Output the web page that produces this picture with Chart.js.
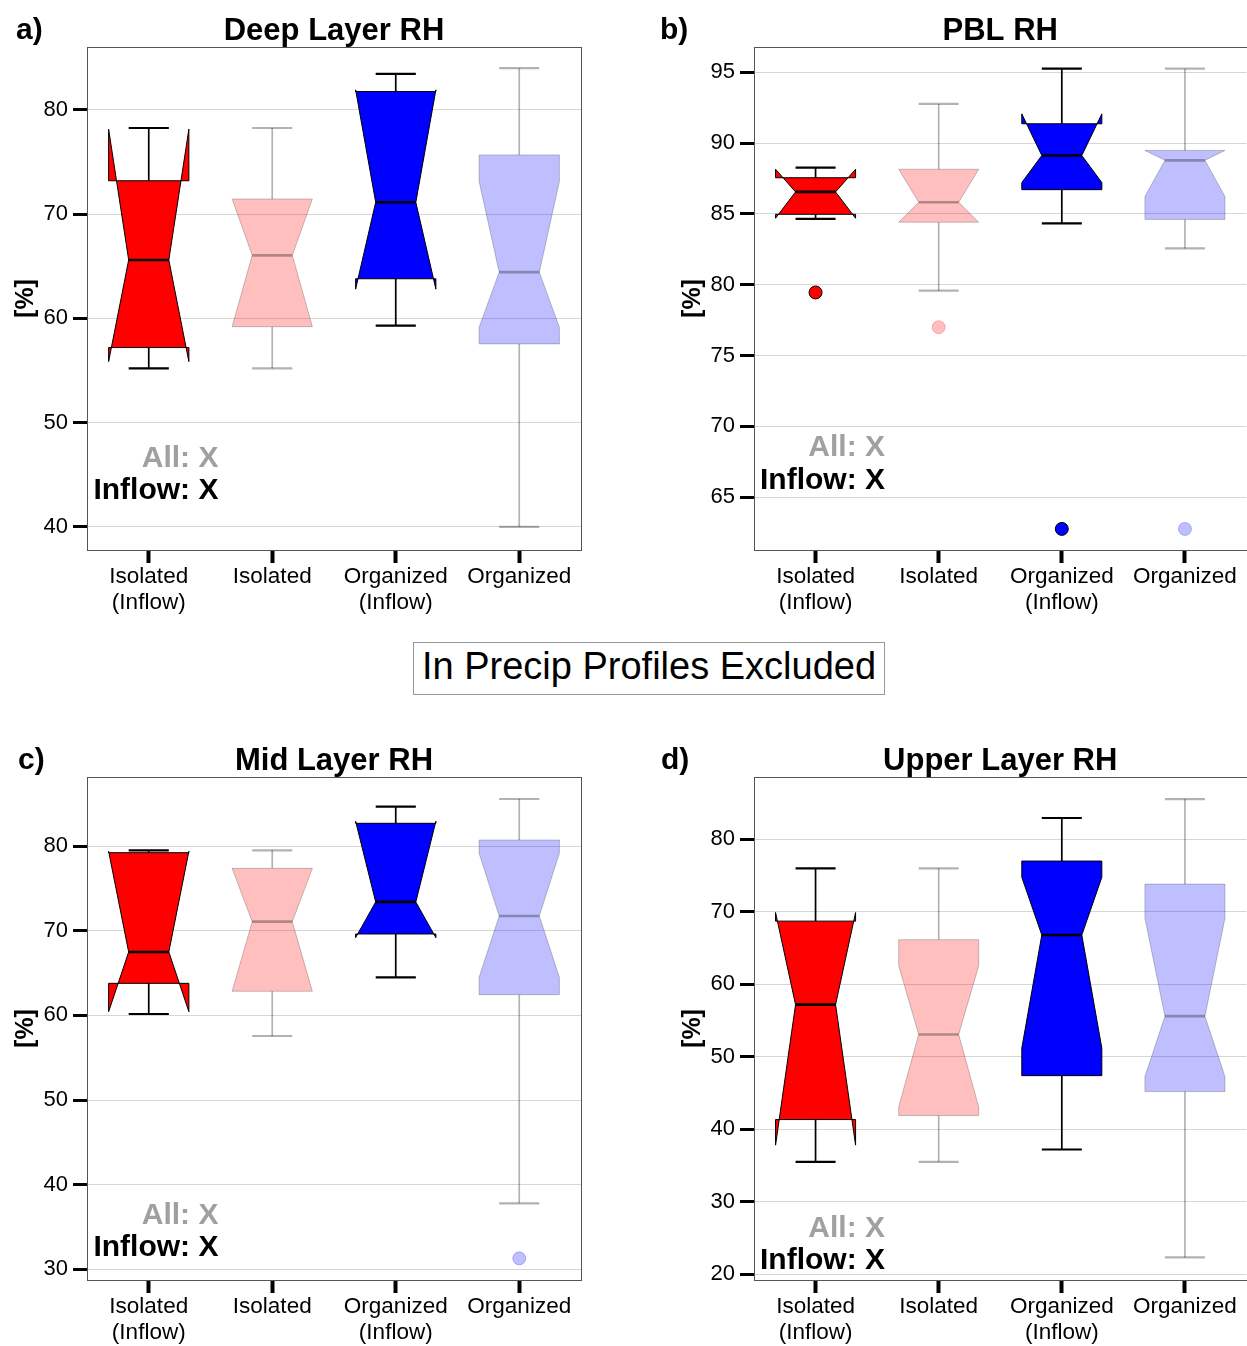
<!DOCTYPE html>
<html>
<head>
<meta charset="UTF-8">
<title>RH notched box plots</title>
<script src="https://cdn.jsdelivr.net/npm/chart.js"></script>
<style>
  html, body { margin: 0; padding: 0; background: #fff; overflow: hidden; width: 1247px; height: 1346px; }
  canvas { position: absolute; }
  .note {
    position: absolute; left: 413px; top: 642px; width: 472px; height: 53px;
    box-sizing: border-box; border: 1px solid #999;
    font: 38px 'Liberation Sans', Arial, sans-serif; color: #000;
    text-align: center; line-height: 46px;
  }
</style>
</head>
<body>
<canvas id="deep" width="620" height="630" style="left:0;top:0"></canvas>
<canvas id="pbl" width="620" height="630" style="left:634px;top:0"></canvas>
<canvas id="mid" width="620" height="630" style="left:0;top:730px"></canvas>
<canvas id="upper" width="620" height="630" style="left:634px;top:730px"></canvas>
<div class="note">In Precip Profiles Excluded</div>

<script>
const categories = [['Isolated', '(Inflow)'], 'Isolated', ['Organized', '(Inflow)'], 'Organized'];

// Deep Layer RH
const deepWhiskerLow  = [55.2, 55.2, 59.3, 40.0];
const deepQ1          = [57.2, 59.2, 63.8, 57.55];
const deepNotchLow    = [55.85, 59.2, 62.8, 59.15];
const deepMedian      = [65.6, 66.05, 71.14, 64.43];
const deepNotchHigh   = [78.15, 71.45, 81.92, 73.12];
const deepQ3          = [73.2, 71.45, 81.76, 75.68];
const deepWhiskerHigh = [78.26, 78.26, 83.45, 84.0];
const deepFliers      = [null, null, null, null];
const deepTicks       = [40, 50, 60, 70, 80];

// PBL RH
const pblWhiskerLow  = [84.64, 79.58, 84.33, 82.56];
const pblQ1          = [84.97, 84.41, 86.71, 84.61];
const pblNotchLow    = [84.69, 84.41, 87.21, 86.23];
const pblMedian      = [86.55, 85.82, 89.12, 88.78];
const pblNotchHigh   = [88.15, 88.15, 92.06, 89.48];
const pblQ3          = [87.55, 88.15, 91.36, 89.48];
const pblWhiskerHigh = [88.26, 92.76, 95.25, 95.25];
const pblFliers      = [79.45, 77.0, 62.76, 62.76];
const pblTicks       = [65, 70, 75, 80, 85, 90, 95];

// Mid Layer RH
const midWhiskerLow  = [60.16, 57.56, 64.49, 37.8];
const midQ1          = [63.78, 62.84, 69.61, 62.44];
const midNotchLow    = [60.43, 62.84, 69.17, 64.49];
const midMedian      = [67.48, 71.06, 73.39, 71.73];
const midNotchHigh   = [79.37, 77.36, 82.92, 79.13];
const midQ3          = [79.21, 77.36, 82.68, 80.71];
const midWhiskerHigh = [79.49, 79.49, 84.64, 85.55];
const midFliers      = [null, null, null, 31.3];
const midTicks       = [30, 40, 50, 60, 70, 80];

// Upper Layer RH
const upperWhiskerLow  = [35.5, 35.5, 37.2, 22.3];
const upperQ1          = [41.33, 41.89, 47.39, 45.19];
const upperNotchLow    = [37.8, 43.07, 51.17, 47.26];
const upperMedian      = [57.2, 53.07, 66.8, 55.59];
const upperNotchHigh   = [69.9, 62.57, 74.76, 69.1];
const upperQ3          = [68.71, 66.15, 77.0, 73.83];
const upperWhiskerHigh = [76.0, 76.0, 82.94, 85.56];
const upperFliers      = [null, null, null, null];
const upperTicks       = [20, 30, 40, 50, 60, 70, 80];

// styling per category
const boxFill   = ['#ff0000', 'rgba(255,0,0,0.25)', '#0000ff', 'rgba(0,0,255,0.25)'];
const boxEdge   = ['#000', 'rgba(0,0,0,0.22)', '#000', 'rgba(0,0,0,0.22)'];
const boxLine   = ['#000', 'rgba(0,0,0,0.3)', '#000', 'rgba(0,0,0,0.3)'];
const flierEdge = ['#000', 'rgba(255,0,0,0.25)', '#000', 'rgba(0,0,255,0.25)'];

const FONT = "'Liberation Sans', Arial, Helvetica, sans-serif";
Chart.defaults.font.family = FONT;
Chart.defaults.color = '#000';

function boxPlugin(s) {
  return {
    id: 'notchedBoxes',
    beforeDatasetsDraw(chart) {
      const ctx = chart.ctx, xs = chart.scales.x, ys = chart.scales.y;
      const half = xs.width / categories.length * 0.65 / 2;
      const py = v => ys.getPixelForValue(v);
      s.median.forEach((med, i) => {
        const cx = xs.getPixelForValue(i);
        const L = cx - half, R = cx + half, wl = cx - half / 2, wr = cx + half / 2;
        ctx.save();
        // whiskers
        ctx.strokeStyle = boxLine[i];
        ctx.lineWidth = 1.7;
        ctx.beginPath();
        ctx.moveTo(cx, py(s.q3[i])); ctx.lineTo(cx, py(s.whiskerHigh[i]));
        ctx.moveTo(cx, py(s.q1[i])); ctx.lineTo(cx, py(s.whiskerLow[i]));
        ctx.stroke();
        // caps
        ctx.lineWidth = 2.2;
        ctx.beginPath();
        ctx.moveTo(wl, py(s.whiskerHigh[i])); ctx.lineTo(wr, py(s.whiskerHigh[i]));
        ctx.moveTo(wl, py(s.whiskerLow[i])); ctx.lineTo(wr, py(s.whiskerLow[i]));
        ctx.stroke();
        // notched box (folds out when notch passes the quartile)
        ctx.beginPath();
        ctx.moveTo(L, py(s.q1[i]));
        ctx.lineTo(R, py(s.q1[i]));
        ctx.lineTo(R, py(s.notchLow[i]));
        ctx.lineTo(wr, py(med));
        ctx.lineTo(R, py(s.notchHigh[i]));
        ctx.lineTo(R, py(s.q3[i]));
        ctx.lineTo(L, py(s.q3[i]));
        ctx.lineTo(L, py(s.notchHigh[i]));
        ctx.lineTo(wl, py(med));
        ctx.lineTo(L, py(s.notchLow[i]));
        ctx.closePath();
        ctx.fillStyle = boxFill[i];
        ctx.fill();
        ctx.strokeStyle = boxEdge[i];
        ctx.lineWidth = 1;
        ctx.stroke();
        // median
        ctx.strokeStyle = boxLine[i];
        ctx.lineWidth = 2.7;
        ctx.beginPath();
        ctx.moveTo(wl, py(med)); ctx.lineTo(wr, py(med));
        ctx.stroke();
        ctx.restore();
      });
    }
  };
}

function textPlugin(p) {
  return {
    id: 'panelText',
    afterDraw(chart) {
      const ctx = chart.ctx, a = chart.chartArea;
      const w = a.right - a.left, h = a.bottom - a.top;
      ctx.save();
      // frame
      ctx.strokeStyle = '#555';
      ctx.lineWidth = 1;
      ctx.strokeRect(Math.round(a.left) + 0.5, Math.round(a.top) + 0.5, Math.round(w), Math.round(h));
      ctx.fillStyle = '#000';
      ctx.font = 'bold 30px ' + FONT;
      ctx.textBaseline = 'alphabetic';
      ctx.textAlign = 'left';
      ctx.fillText(p.letter, p.letterX, 38.5);
      ctx.font = 'bold 31px ' + FONT;
      ctx.textAlign = 'center';
      ctx.fillText(p.title, (a.left + a.right) / 2, a.top - 7.5);
      // notes
      ctx.font = 'bold 30px ' + FONT;
      ctx.textAlign = 'right';
      const nx = a.left + 0.266 * w;
      ctx.fillStyle = '#a0a0a0';
      ctx.fillText('All: X', nx, a.top + p.allY * h);
      ctx.fillStyle = '#000';
      ctx.fillText('Inflow: X', nx, a.top + p.inflowY * h);
      // y title
      ctx.translate(a.left - 61, (a.top + a.bottom) / 2);
      ctx.rotate(-Math.PI / 2);
      ctx.textAlign = 'center';
      ctx.textBaseline = 'middle';
      ctx.font = 'bold 25px ' + FONT;
      ctx.fillText('[%]', 0, 0);
      ctx.restore();
    }
  };
}

function makePanel(p) {
  new Chart(document.getElementById(p.id), {
    type: 'line',
    data: {
      labels: categories,
      datasets: [{
        data: p.fliers,
        showLine: false,
        pointRadius: 6.5,
        pointHoverRadius: 6.5,
        pointBorderWidth: 1,
        pointBackgroundColor: boxFill,
        pointBorderColor: flierEdge
      }]
    },
    options: {
      responsive: false,
      animation: false,
      events: [],
      layout: { padding: { left: p.padLeft, right: p.padRight, top: 47, bottom: 10 } },
      plugins: { legend: { display: false }, tooltip: { enabled: false }, title: { display: false } },
      scales: {
        x: {
          offset: true,
          border: { display: false },
          grid: { drawOnChartArea: false, drawTicks: true, tickLength: 13, tickWidth: 4, tickColor: '#000' },
          ticks: { color: '#000', font: { size: 22.5, lineHeight: 1.15 }, padding: 1, maxRotation: 0, autoSkip: false },
          afterFit(scale) { scale.height = 70; }
        },
        y: {
          min: p.min,
          max: p.max,
          border: { display: false },
          grid: { color: 'rgba(0,0,0,0.16)', lineWidth: 1, tickLength: 14, tickWidth: 3, tickColor: '#000' },
          ticks: { color: '#000', font: { size: 22 }, padding: 5, callback: v => String(v) },
          afterBuildTicks(scale) { scale.ticks = p.ticks.map(v => ({ value: v })); },
          afterFit(scale) { scale.width = 87; }
        }
      }
    },
    plugins: [boxPlugin(p.stats), textPlugin(p)]
  });
}

makePanel({
  id: 'deep', title: 'Deep Layer RH', letter: 'a)', letterX: 16, padLeft: 0, padRight: 39,
  min: 37.78, max: 86.03, ticks: deepTicks, fliers: deepFliers, allY: 0.834, inflowY: 0.899,
  stats: { whiskerLow: deepWhiskerLow, q1: deepQ1, notchLow: deepNotchLow, median: deepMedian,
           notchHigh: deepNotchHigh, q3: deepQ3, whiskerHigh: deepWhiskerHigh }
});
makePanel({
  id: 'pbl', title: 'PBL RH', letter: 'b)', letterX: 26, padLeft: 33, padRight: 7,
  min: 61.27, max: 96.78, ticks: pblTicks, fliers: pblFliers, allY: 0.814, inflowY: 0.879,
  stats: { whiskerLow: pblWhiskerLow, q1: pblQ1, notchLow: pblNotchLow, median: pblMedian,
           notchHigh: pblNotchHigh, q3: pblQ3, whiskerHigh: pblWhiskerHigh }
});
makePanel({
  id: 'mid', title: 'Mid Layer RH', letter: 'c)', letterX: 18, padLeft: 0, padRight: 39,
  min: 28.74, max: 88.15, ticks: midTicks, fliers: midFliers, allY: 0.889, inflowY: 0.952,
  stats: { whiskerLow: midWhiskerLow, q1: midQ1, notchLow: midNotchLow, median: midMedian,
           notchHigh: midNotchHigh, q3: midQ3, whiskerHigh: midWhiskerHigh }
});
makePanel({
  id: 'upper', title: 'Upper Layer RH', letter: 'd)', letterX: 27, padLeft: 33, padRight: 7,
  min: 19.19, max: 88.6, ticks: upperTicks, fliers: upperFliers, allY: 0.914, inflowY: 0.978,
  stats: { whiskerLow: upperWhiskerLow, q1: upperQ1, notchLow: upperNotchLow, median: upperMedian,
           notchHigh: upperNotchHigh, q3: upperQ3, whiskerHigh: upperWhiskerHigh }
});
</script>
</body>
</html>
